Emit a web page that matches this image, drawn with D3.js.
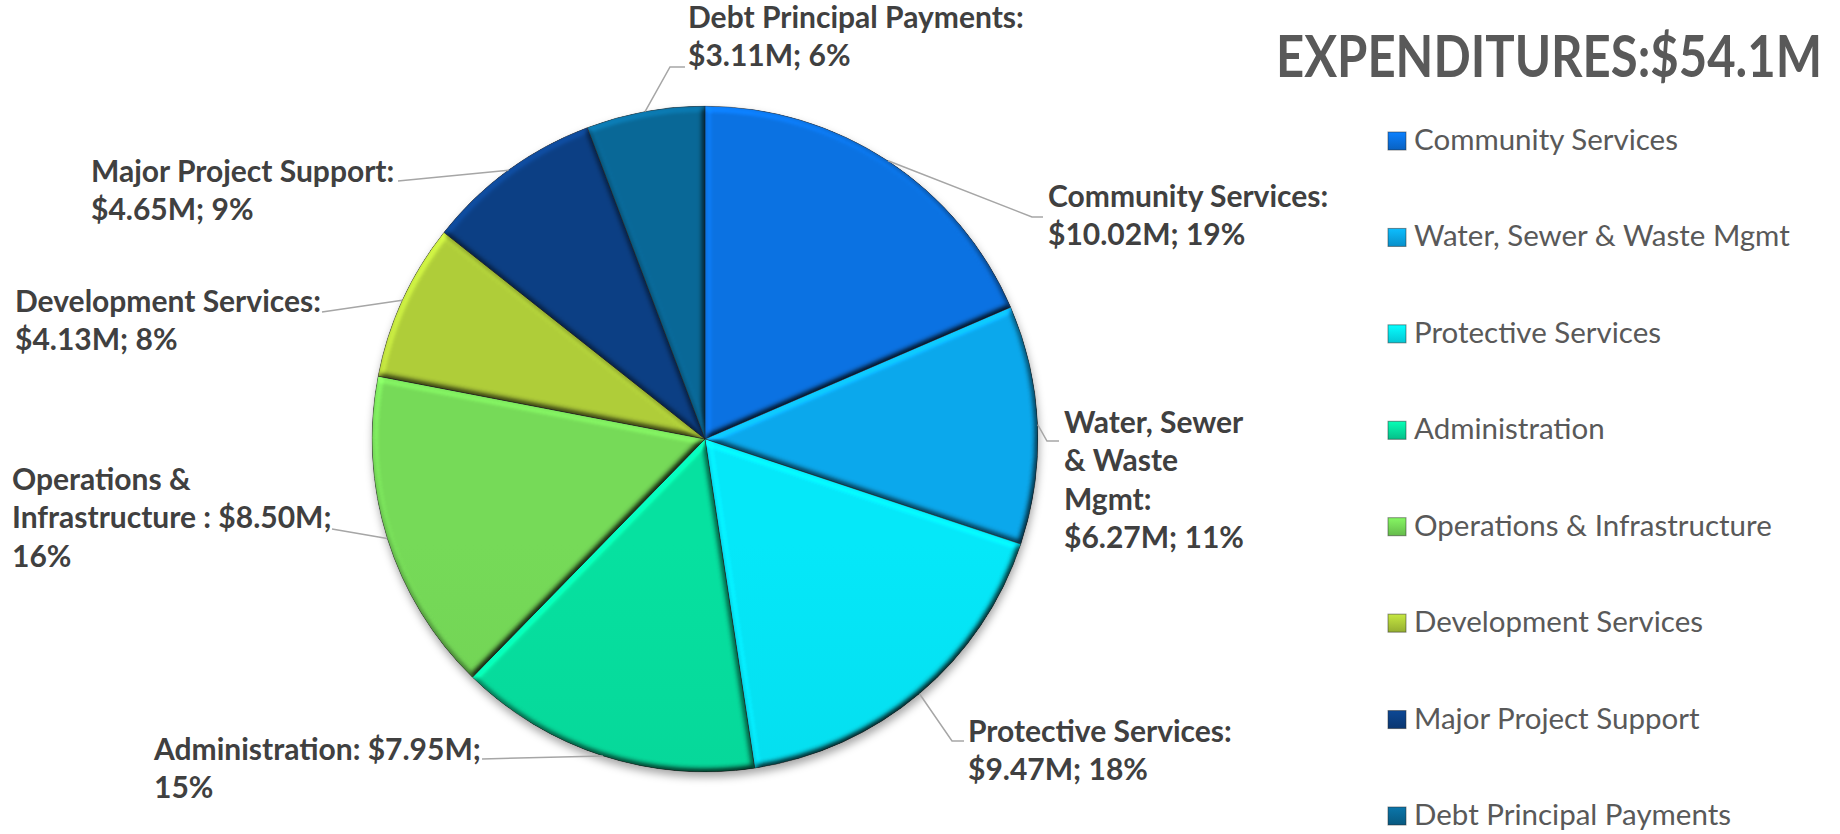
<!DOCTYPE html>
<html>
<head>
<meta charset="utf-8">
<script src="https://cdn.jsdelivr.net/npm/d3@7"></script>
<style>
  html, body { margin: 0; padding: 0; background: #ffffff; }
  svg { display: block; }
</style>
</head>
<body>
<svg id="chart" width="1840" height="834"></svg>
<script>
// ---- Data ----------------------------------------------------------------
const categories = [
  "Community Services",
  "Water, Sewer & Waste Mgmt",
  "Protective Services",
  "Administration",
  "Operations & Infrastructure ",
  "Development Services",
  "Major Project Support",
  "Debt Principal Payments"
];
const amounts = [10.02, 6.27, 9.47, 7.95, 8.50, 4.13, 4.65, 3.11];   // $ millions
const percentLabels = ["19%", "11%", "18%", "15%", "16%", "8%", "9%", "6%"];
const totalLabel = "EXPENDITURES:$54.1M";

// ---- Styling ---------------------------------------------------------------
const sliceColors = ["#0a6cd6", "#0a9fe0", "#05dcec", "#06d598", "#70cf53", "#a6c236", "#0b3c7d", "#09638f"];

// Data-label placement: left edge, first baseline, words per line, leader tail points
const labelLayout = [
  { x: 1048, y: 207, words: [2, 2],       tail: [[1032, 217], [1043, 217]] },
  { x: 1064, y: 433, words: [2, 2, 1, 2], tail: [[1047, 441], [1059, 441]] },
  { x: 968,  y: 742, words: [2, 2],       tail: [[952, 741], [964, 741]] },
  { x: 154,  y: 760, words: [2, 1],       tail: [[482, 759]] },
  { x: 12,   y: 490, words: [2, 3, 1],    tail: [[332, 529]] },
  { x: 15,   y: 312, words: [2, 2],       tail: [[322, 312]] },
  { x: 91,   y: 182, words: [3, 2],       tail: [[398, 181]] },
  { x: 688,  y: 28,  words: [3, 2],       tail: [[670, 67], [685, 67]] }
];

const cx = 705, cy = 439, radius = 333;
const lineHeight = 38.3;
const labelFont = "Lato, 'Open Sans', sans-serif";

const svg = d3.select("#chart");
const defs = svg.append("defs");

// Soft bevel: light from upper-left applied to each wedge's own alpha edge
const bevel = defs.append("filter")
  .attr("id", "bevel")
  .attr("x", "-5%").attr("y", "-5%").attr("width", "110%").attr("height", "110%")
  .attr("color-interpolation-filters", "sRGB");
bevel.append("feGaussianBlur").attr("in", "SourceAlpha").attr("stdDeviation", 3).attr("result", "blur");
const diff = bevel.append("feDiffuseLighting")
  .attr("in", "blur").attr("surfaceScale", 4).attr("diffuseConstant", 1)
  .attr("lighting-color", "#ffffff").attr("result", "diff");
diff.append("feDistantLight").attr("azimuth", 235).attr("elevation", 55);
bevel.append("feComposite").attr("in", "SourceGraphic").attr("in2", "diff")
  .attr("operator", "arithmetic").attr("k1", 1.22).attr("k2", 0).attr("k3", 0).attr("k4", 0)
  .attr("result", "lit");
bevel.append("feComposite").attr("in", "lit").attr("in2", "SourceAlpha").attr("operator", "in");

// Drop shadow beneath the pie
const shadow = defs.append("filter").attr("id", "shadow")
  .attr("x", "-10%").attr("y", "-10%").attr("width", "120%").attr("height", "120%");
shadow.append("feGaussianBlur").attr("stdDeviation", 4);

// Vertical shading per wedge (lighter top, darker bottom)
sliceColors.forEach((c, i) => {
  const g = defs.append("linearGradient")
    .attr("id", "grad" + i)
    .attr("gradientUnits", "userSpaceOnUse")
    .attr("x1", 0).attr("y1", cy - radius).attr("x2", 0).attr("y2", cy + radius);
  g.append("stop").attr("offset", "0%").attr("stop-color", d3.color(c).brighter(0.15));
  g.append("stop").attr("offset", "100%").attr("stop-color", d3.color(c).darker(0.2));
  const lg = defs.append("linearGradient")
    .attr("id", "lgrad" + i).attr("x1", 0).attr("y1", 0).attr("x2", 0).attr("y2", 1);
  lg.append("stop").attr("offset", "0%").attr("stop-color", d3.color(c).brighter(0.5));
  lg.append("stop").attr("offset", "100%").attr("stop-color", d3.color(c).darker(0.3));
});

// ---- Pie -------------------------------------------------------------------
const pie = d3.pie().sort(null).value(d => d);
const arcs = pie(amounts);
const arc = d3.arc().innerRadius(0).outerRadius(radius);
const edgeArc = d3.arc().innerRadius(radius).outerRadius(radius);

const pieG = svg.append("g").attr("transform", `translate(${cx},${cy})`);

pieG.append("circle")
  .attr("cx", 1).attr("cy", 5).attr("r", radius)
  .attr("fill", "rgba(0,0,0,0.35)")
  .attr("filter", "url(#shadow)");

pieG.selectAll("path.slice")
  .data(arcs)
  .join("path")
  .attr("class", "slice")
  .attr("d", arc)
  .attr("fill", (d, i) => `url(#grad${i})`)
  .attr("stroke", "rgba(40,40,40,0.55)")
  .attr("stroke-width", 1)
  .attr("filter", "url(#bevel)");

// ---- Leader lines ----------------------------------------------------------
const leaderLine = d3.line();
svg.append("g")
  .selectAll("path")
  .data(arcs)
  .join("path")
  .attr("d", (d, i) => {
    const p = edgeArc.centroid(d);
    const start = [cx + p[0], cy + p[1]];
    return leaderLine([start, ...labelLayout[i].tail]);
  })
  .attr("fill", "none")
  .attr("stroke", "#a6a6a6")
  .attr("stroke-width", 1.5);

// ---- Data labels -----------------------------------------------------------
const labelG = svg.append("g")
  .attr("font-family", labelFont)
  .attr("font-weight", 700)
  .attr("font-size", 30)
  .attr("fill", "#404040");

categories.forEach((name, i) => {
  const full = `${name}: $${amounts[i].toFixed(2)}M; ${percentLabels[i]}`.replace(/\s+/g, " ");
  const tokens = full.split(" ");
  const lay = labelLayout[i];
  const lines = [];
  let k = 0;
  lay.words.forEach(n => { lines.push(tokens.slice(k, k + n).join(" ")); k += n; });
  const t = labelG.append("text").attr("x", lay.x).attr("y", lay.y);
  lines.forEach((ln, j) => {
    t.append("tspan").attr("x", lay.x).attr("y", lay.y + j * lineHeight).text(ln);
  });
});

// ---- Title -----------------------------------------------------------------
svg.append("text")
  .attr("x", 1276).attr("y", 77)
  .attr("font-family", labelFont)
  .attr("font-weight", 700)
  .attr("font-size", 58)
  .attr("fill", "#595959")
  .attr("textLength", 546)
  .attr("lengthAdjust", "spacingAndGlyphs")
  .text(totalLabel);

// ---- Legend ----------------------------------------------------------------
const legendY = d3.scalePoint().domain(d3.range(categories.length)).range([150, 825]);
const legend = svg.append("g")
  .selectAll("g")
  .data(categories)
  .join("g")
  .attr("transform", (d, i) => `translate(1388,${legendY(i)})`);

legend.append("rect")
  .attr("x", 0).attr("y", -18).attr("width", 18).attr("height", 18)
  .attr("fill", (d, i) => `url(#lgrad${i})`)
  .attr("stroke", "rgba(40,40,40,0.5)")
  .attr("stroke-width", 1);

legend.append("text")
  .attr("x", 26).attr("y", 0)
  .attr("font-family", labelFont)
  .attr("font-size", 29.5)
  .attr("fill", "#595959")
  .text(d => d.trim());
</script>
</body>
</html>
